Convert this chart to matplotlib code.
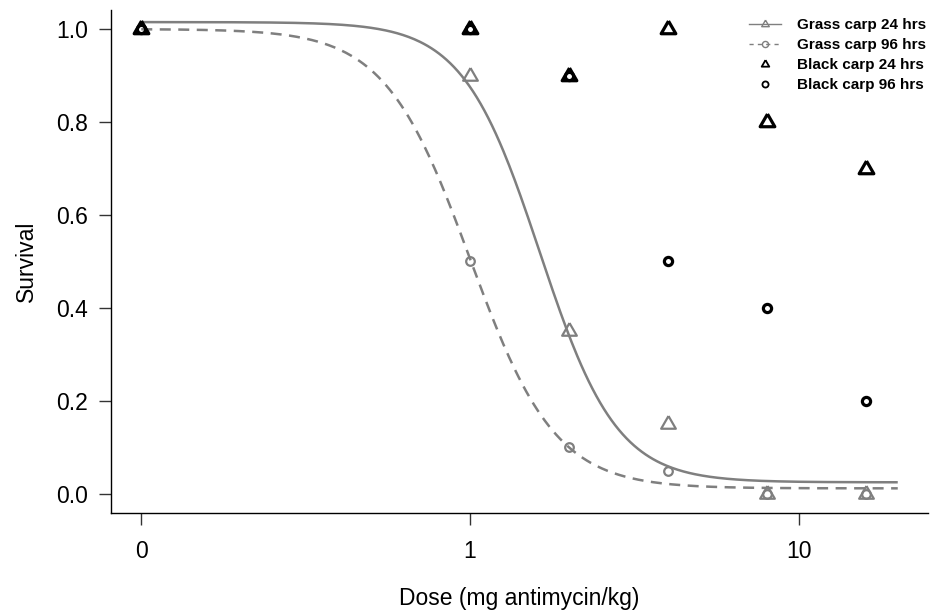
import numpy as np
import matplotlib
matplotlib.use("Agg")
import matplotlib.pyplot as plt
from matplotlib.lines import Line2D

plt.rcParams['font.family'] = ['Liberation Sans', 'DejaVu Sans']

# ---- data (dose 0 is drawn at 0.1 on the log axis, as in drc plots) ----
dose = [0.1, 1, 2, 4, 8, 16]
grass_24 = [1.0, 0.9, 0.35, 0.15, 0.0, 0.0]
grass_96 = [1.0, 0.5, 0.1, 0.05, 0.0, 0.0]
black_24 = [1.0, 1.0, 0.9, 1.0, 0.8, 0.7]
black_96 = [1.0, 1.0, 0.9, 0.5, 0.4, 0.2]

# fitted log-logistic (LL.4) parameters: b, c, d, e
fit_grass_24 = [3.7, 0.025, 1.015, 1.63]
fit_grass_96 = [3.35, 0.012, 1.0, 1.0]
curve_range = [0.1, 20]

xtick_pos = [0.1, 1, 10]
xtick_labels = ["0", "1", "10"]
ytick_pos = [0.0, 0.2, 0.4, 0.6, 0.8, 1.0]
ytick_labels = ["0.0", "0.2", "0.4", "0.6", "0.8", "1.0"]

legend_labels = ["Grass carp 24 hrs", "Grass carp 96 hrs", "Black carp 24 hrs", "Black carp 96 hrs"]


def ll4(x, p):
    b, c, d, e = p
    return c + (d - c) / (1 + np.exp(b * (np.log(x) - np.log(e))))


GREY = '#7f7f7f'
TRI = [(0, 1), (-0.866, -0.5), (0.866, -0.5), (0, 1)]

W, H = 941, 613
fig = plt.figure(figsize=(W / 100, H / 100), dpi=100)
ax = fig.add_axes([111 / W, 1 - 513 / H, (928 - 111) / W, (513 - 10) / H])

xs = np.geomspace(curve_range[0], curve_range[1], 400)
ax.plot(xs, ll4(xs, fit_grass_24), color=GREY, lw=1.8, solid_capstyle='butt', zorder=2)
ax.plot(xs, ll4(xs, fit_grass_96), color=GREY, lw=1.8, dashes=(4.4, 3.0), zorder=2)

ax.plot(dose, grass_24, linestyle='none', marker=TRI, ms=12.2, mfc='none', mec=GREY, mew=1.6, zorder=3)
ax.plot(dose, grass_96, linestyle='none', marker='o', ms=6.2, mfc='none', mec=GREY, mew=1.6, zorder=3)
ax.plot(dose, black_24, linestyle='none', marker=TRI, ms=12.2, mfc='none', mec='black', mew=2.3, zorder=4)
ax.plot(dose, black_96, linestyle='none', marker='o', ms=5.9, mfc='none', mec='black', mew=2.3, zorder=4)

ax.set_xscale('log')
lo, hi = np.log10(curve_range[0]), np.log10(curve_range[1])
ext = 0.04 * (hi - lo)
ax.set_xlim(10 ** (lo - ext), 10 ** (hi + ext))
ax.set_ylim(-0.041, 1.041)

ax.set_xticks(xtick_pos)
ax.set_xticklabels(xtick_labels)
ax.xaxis.set_minor_locator(matplotlib.ticker.NullLocator())
ax.set_yticks(ytick_pos)
ax.set_yticklabels(ytick_labels)

for s in ['top', 'right']:
    ax.spines[s].set_visible(False)
for s in ['left', 'bottom']:
    ax.spines[s].set_linewidth(1.0)
ax.tick_params(axis='both', length=8.6, width=1.0, labelsize=16.5, pad=8, color='#333333')
ax.tick_params(axis='x', pad=11)

ax.set_xlabel("Dose (mg antimycin/kg)", fontsize=16.5)
ax.set_ylabel("Survival", fontsize=16.5)
ax.xaxis.set_label_coords(0.5, (513 - 598) / (513 - 10))
ax.xaxis.label.set_va('center')
ax.yaxis.set_label_coords((26 - 111) / (928 - 111), 0.5)
ax.yaxis.label.set_va('center')

handles = [
    Line2D([], [], color=GREY, lw=1.0, marker=TRI, ms=6.3, mfc='none', mec=GREY, mew=1.0),
    Line2D([], [], color=GREY, lw=1.0, dashes=(3, 3), marker='o', ms=4.4, mfc='none', mec=GREY, mew=1.0),
    Line2D([], [], linestyle='none', marker=TRI, ms=6.3, mfc='none', mec='black', mew=1.3),
    Line2D([], [], linestyle='none', marker='o', ms=4.4, mfc='none', mec='black', mew=1.3),
]
leg = ax.legend(handles, legend_labels, loc='upper right',
                bbox_to_anchor=(926 / W, 1 - 18 / H), bbox_transform=fig.transFigure,
                frameon=False, prop={'weight': 'bold', 'size': 11},
                handlelength=2.1, handletextpad=1.05, labelspacing=0.4,
                borderpad=0, borderaxespad=0, numpoints=1)

fig.savefig("out.png", dpi=100)
